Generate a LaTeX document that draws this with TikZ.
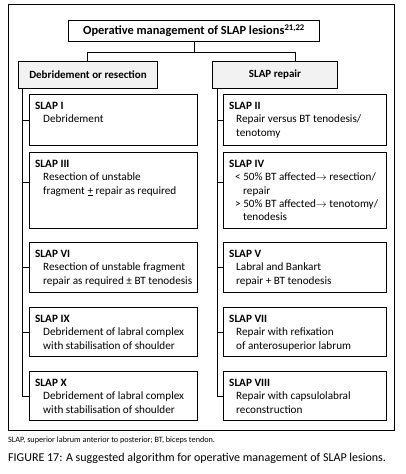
\documentclass[tikz,border=0pt]{standalone}
\usepackage{fontspec}
\setmainfont{Carlito}
\begin{document}
\begin{tikzpicture}[x=1pt,y=-1pt,
  ln/.style={line width=0.9pt, draw=black},
  box/.style={draw, line width=1pt, anchor=north west, inner sep=0pt},
  hbox/.style={draw, line width=1pt, anchor=north west, inner sep=0pt, fill=black!5,
    font=\fontsize{11}{13}\selectfont\bfseries},
  txt/.style={anchor=north west, inner sep=0pt, align=left, font=\fontsize{11.2}{13.3}\selectfont},
  lbox/.style={box, minimum width=168pt},
  rbox/.style={box, minimum width=163pt}
]
\useasboundingbox (0,0) rectangle (405,474);
% outer frame
\node[draw, line width=0.9pt, anchor=north west, inner sep=0pt, minimum width=386pt, minimum height=426pt] (frame) at (8,4) {};
% title
\node[box, minimum width=251pt, minimum height=21pt, font=\fontsize{12.4}{14}\selectfont\bfseries] (title) at (68,20)
  {Operative management of SLAP lesions\textsuperscript{21,22}};
% headers
\node[hbox, minimum width=139pt, minimum height=27pt] (lh) at (18,61) {Debridement or resection};
\node[hbox, minimum width=125pt, minimum height=27pt] (rh) at (212,61) {SLAP repair};
% junction
\coordinate (jl) at (87,52);
\coordinate (jr) at (295,52);
\draw[ln] (title.south) -- (title.south |- jl);
\draw[ln] (jl |- lh.north) -- (jl) -- (jr) -- (jr |- rh.north);
% left boxes
\node[lbox, minimum height=51pt] (b1) at (29,94) {};
\node[lbox, minimum height=76pt] (b3) at (29,152) {};
\node[lbox, minimum height=50pt] (b6) at (29,242) {};
\node[lbox, minimum height=49pt] (b9) at (29,307) {};
\node[lbox, minimum height=49pt] (b10) at (29,371) {};
% right boxes
\node[rbox, minimum height=51pt] (b2) at (223,94) {};
\node[rbox, minimum height=76pt] (b4) at (223,152) {};
\node[rbox, minimum height=50pt] (b5) at (223,242) {};
\node[rbox, minimum height=49pt] (b7) at (223,307) {};
\node[rbox, minimum height=49pt] (b8) at (223,371) {};
% texts
\node[txt] (t1) at ([xshift=6pt,yshift=-8pt]b1.north west)
  {\textbf{SLAP I}\\\hspace*{8pt}Debridement};
\node[txt] (t3) at ([xshift=6pt,yshift=-8pt]b3.north west)
  {\textbf{SLAP III}\\\hspace*{8pt}Resection of unstable\\\hspace*{8pt}fragment \underline{+} repair as required};
\node[txt] (t6) at ([xshift=6pt,yshift=-8pt]b6.north west)
  {\textbf{SLAP VI}\\\hspace*{8pt}Resection of unstable fragment\\\hspace*{8pt}repair as required ± BT tenodesis};
\node[txt] (t9) at ([xshift=6pt,yshift=-8pt]b9.north west)
  {\textbf{SLAP IX}\\\hspace*{8pt}Debridement of labral complex\\\hspace*{8pt}with stabilisation of shoulder};
\node[txt] (t10) at ([xshift=6pt,yshift=-8pt]b10.north west)
  {\textbf{SLAP X}\\\hspace*{8pt}Debridement of labral complex\\\hspace*{8pt}with stabilisation of shoulder};
\node[txt] (t2) at ([xshift=6pt,yshift=-8pt]b2.north west)
  {\textbf{SLAP II}\\\hspace*{7pt}Repair versus BT tenodesis/\\\hspace*{7pt}tenotomy};
\node[txt] (t4) at ([xshift=6pt,yshift=-8pt]b4.north west)
  {\textbf{SLAP IV}\\\hspace*{6pt}< 50\% BT affected$\rightarrow$ resection/\\\hspace*{14pt}repair\\\hspace*{6pt}> 50\% BT affected$\rightarrow$ tenotomy/\\\hspace*{14pt}tenodesis};
\node[txt] (t5) at ([xshift=6pt,yshift=-8pt]b5.north west)
  {\textbf{SLAP V}\\\hspace*{7pt}Labral and Bankart\\\hspace*{7pt}repair + BT tenodesis};
\node[txt] (t7) at ([xshift=6pt,yshift=-8pt]b7.north west)
  {\textbf{SLAP VII}\\\hspace*{7pt}Repair with refixation\\\hspace*{7pt}of anterosuperior labrum};
\node[txt] (t8) at ([xshift=6pt,yshift=-8pt]b8.north west)
  {\textbf{SLAP VIII}\\\hspace*{7pt}Repair with capsulolabral\\\hspace*{7pt}reconstruction};
% spines
\coordinate (sl) at (22,88);
\coordinate (sr) at (217,88);
\coordinate (k3) at (22,182);
\coordinate (k4) at (217,182);
\draw[ln] (sl |- lh.south) -- (sl |- b10.west) -- (b10.west);
\draw[ln] (sl |- b1.west) -- (b1.west);
\draw[ln] (k3) -- (k3 -| b3.west);
\draw[ln] (sl |- b6.west) -- (b6.west);
\draw[ln] (sl |- b9.west) -- (b9.west);
\draw[ln] (sr |- rh.south) -- (sr |- b8.west) -- (b8.west);
\draw[ln] (sr |- b2.west) -- (b2.west);
\draw[ln] (k4) -- (k4 -| b4.west);
\draw[ln] (sr |- b5.west) -- (b5.west);
\draw[ln] (sr |- b7.west) -- (b7.west);
% captions
\node[anchor=west, inner sep=0pt, font=\fontsize{8.2}{10}\selectfont] (cap1) at (8,440)
  {SLAP, superior labrum anterior to posterior; BT, biceps tendon.};
\node[anchor=west, inner sep=0pt, font=\fontsize{12}{14}\selectfont] (cap2) at (8,458)
  {FIGURE 17: A suggested algorithm for operative management of SLAP lesions.};
\end{tikzpicture}
\end{document}
